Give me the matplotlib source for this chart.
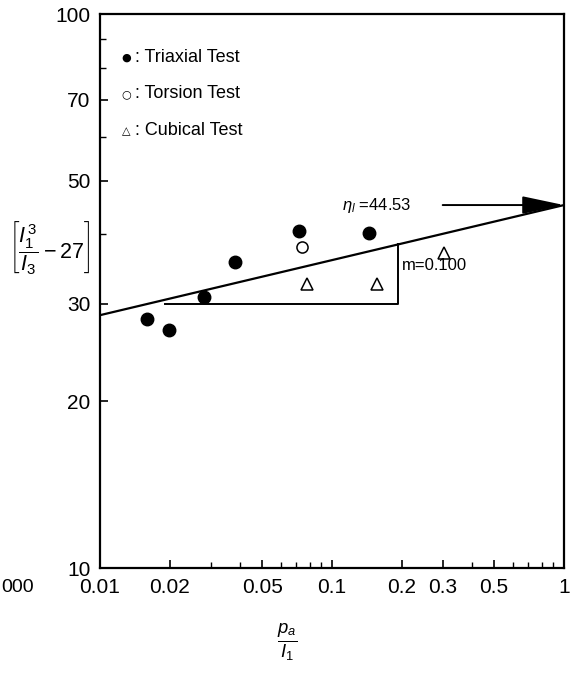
import matplotlib
matplotlib.use("Agg")
import matplotlib.pyplot as plt
from matplotlib.ticker import FixedLocator, NullFormatter

plt.rcParams['font.family'] = ['Liberation Sans', 'DejaVu Sans']
plt.rcParams['mathtext.fontset'] = 'custom'
plt.rcParams['mathtext.rm'] = 'Liberation Sans'
plt.rcParams['mathtext.it'] = 'Liberation Sans:italic'

# 데이터
triaxial_x = [0.0160, 0.0199, 0.0282, 0.0381, 0.0724, 0.145]
triaxial_y = [28.2, 26.9, 30.8, 35.7, 40.5, 40.2]
torsion_x = [0.074]
torsion_y = [37.9]
cubical_x = [0.0778, 0.157, 0.304]
cubical_y = [32.5, 32.6, 37.0]

# 회귀선과 기울기 삼각형
fit_x = [0.01, 1.0]
fit_y = [28.6, 45.2]
slope_x = [0.019, 0.192, 0.192]
slope_y = [30, 30, 38.4]
eta = 45.2

xticks = [0.01, 0.02, 0.05, 0.1, 0.2, 0.3, 0.5, 1]
xtick_labels = ['0.01', '0.02', '0.05', '0.1', '0.2', '0.3', '0.5', '1']
yticks = [10, 20, 30, 50, 70, 100]
ytick_labels = ['10', '20', '30', '50', '70', '100']

fig = plt.figure(figsize=(5.7, 6.77), dpi=100)
ax = fig.add_axes([100 / 570, 109 / 677, 464 / 570, 554 / 677])

ax.plot(fit_x, fit_y, color='black', lw=1.6, zorder=2)
ax.plot(slope_x, slope_y, color='black', lw=1.4, zorder=2)

ax.plot(triaxial_x, triaxial_y, 'o', color='black', ms=9, zorder=3)
ax.plot(torsion_x, torsion_y, 'o', mfc='white', mec='black', mew=1.1, ms=8, zorder=3)
ax.plot(cubical_x, cubical_y, '^', mfc='white', mec='black', mew=1.1, ms=9, zorder=3)

# 화살표
ax.annotate('', xy=(1.0, eta), xytext=(0.30, eta),
            arrowprops=dict(arrowstyle='-|>,head_length=26,head_width=5.5',
                            mutation_scale=1, lw=1.4, color='black',
                            shrinkA=0, shrinkB=0))
ax.text(0.110, eta, r'$\eta_l$ =44.53', fontsize=12, va='center', ha='left')
ax.text(0.200, 35.2, 'm=0.100', fontsize=12, va='center', ha='left')

# 범례 (텍스트)
legend_rows = [('\u25CF', 'Triaxial Test', 0.922),
               ('\u25CB', 'Torsion Test', 0.856),
               ('\u25B3', 'Cubical Test', 0.789)]
for sym, label, yy in legend_rows:
    ax.text(0.056, yy, sym, transform=ax.transAxes, fontsize=8,
            ha='center', va='center', family=['DejaVu Sans'])
    ax.text(0.075, yy, ': ' + label, transform=ax.transAxes, fontsize=13,
            ha='left', va='center')

ax.set_xscale('log')
ax.set_yscale('log')
ax.set_xlim(0.01, 1)
ax.set_ylim(10, 100)

ax.xaxis.set_major_locator(FixedLocator(xticks))
ax.set_xticklabels(xtick_labels)
ax.xaxis.set_minor_locator(FixedLocator([0.03, 0.04, 0.06, 0.07, 0.08, 0.09,
                                         0.4, 0.6, 0.7, 0.8, 0.9]))
ax.xaxis.set_minor_formatter(NullFormatter())
ax.yaxis.set_major_locator(FixedLocator(yticks))
ax.set_yticklabels(ytick_labels)
ax.yaxis.set_minor_locator(FixedLocator([40, 60, 80, 90]))
ax.yaxis.set_minor_formatter(NullFormatter())

ax.tick_params(which='major', direction='in', length=6, width=1.2, labelsize=15, pad=7)
ax.tick_params(which='minor', direction='in', length=4, width=1.0)
for s in ax.spines.values():
    s.set_linewidth(1.6)

# 축 라벨
fig.text(50 / 570, 1 - 248 / 677, r'$\left[\dfrac{I_1^{\,3}}{I_3} - 27\right]$',
         fontsize=15.5, ha='center', va='center')
fig.text(287 / 570, 1 - 642 / 677, r'$\frac{p_a}{I_1}$', fontsize=19,
         ha='center', va='center')
fig.text(1 / 570, 1 - 588 / 677, '000', fontsize=14, ha='left', va='center')

plt.savefig("out.png", dpi=100)
